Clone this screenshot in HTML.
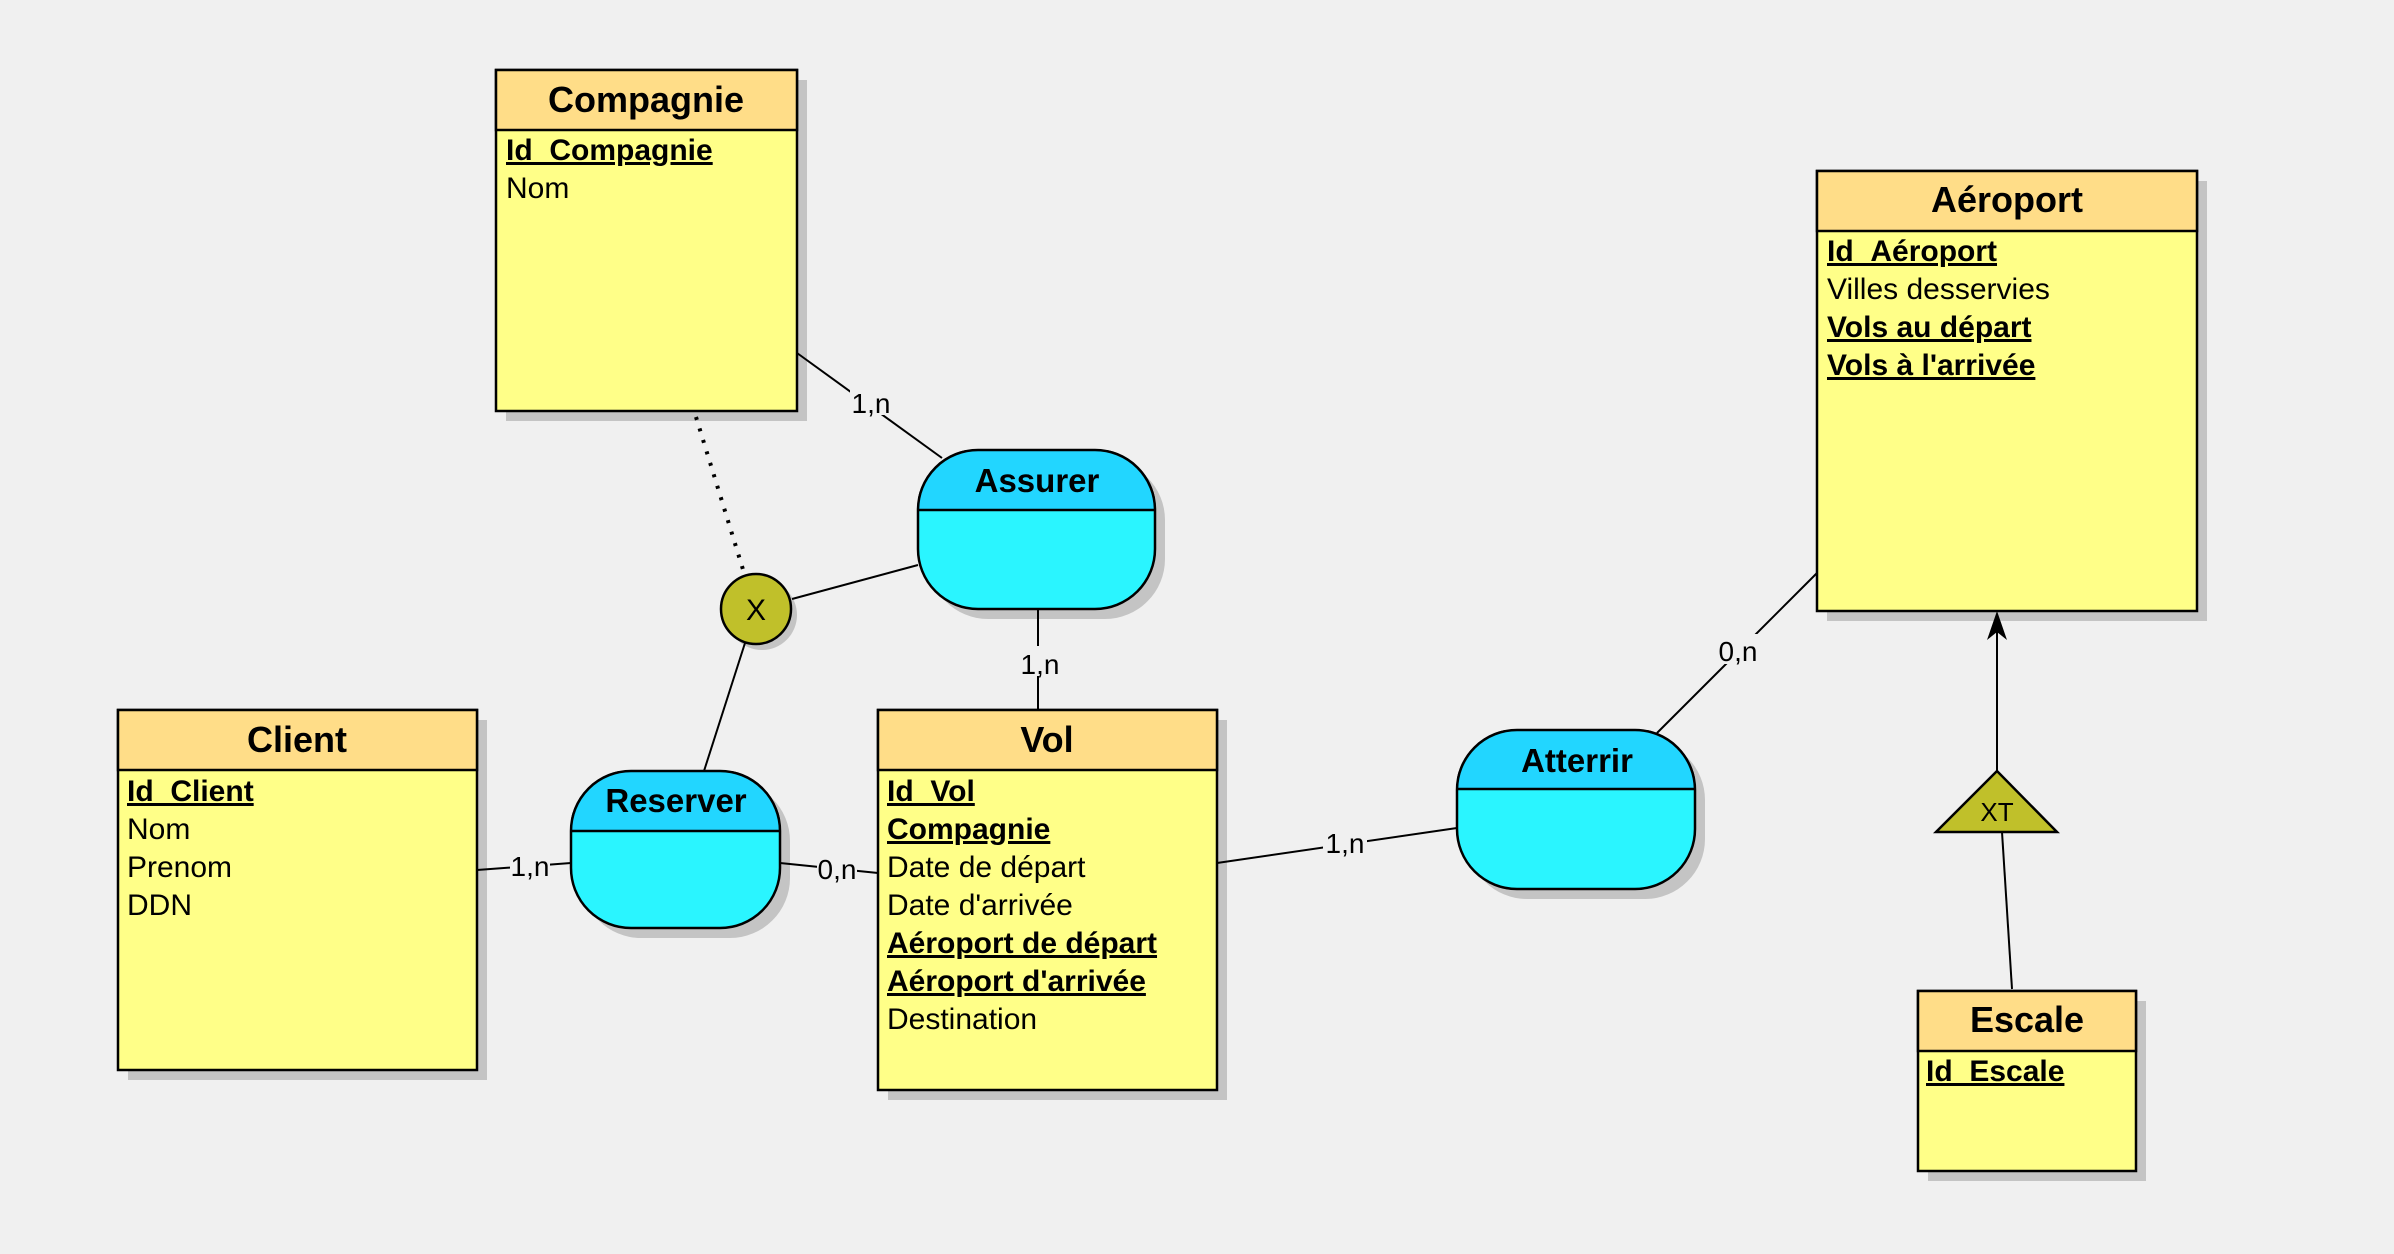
<!DOCTYPE html>
<html><head><meta charset="utf-8"><style>
html,body{margin:0;padding:0;background:#f0f0f0;}
svg{display:block;font-family:"Liberation Sans",Arial,sans-serif;}
.t{font-weight:bold;font-size:36px;text-anchor:middle;}
.a{font-size:30px;}
.k{font-size:30px;font-weight:bold;text-decoration:underline;}
.r{font-weight:bold;font-size:33px;text-anchor:middle;}
.l{font-size:28px;text-anchor:middle;}
</style></head><body>
<svg width="2394" height="1254" viewBox="0 0 2394 1254" xmlns="http://www.w3.org/2000/svg">
<rect width="2394" height="1254" fill="#f0f0f0"/>
<!-- shadows -->
<g fill="#c4c4c4">
<rect x="506" y="80" width="301" height="341"/>
<rect x="1827" y="181" width="380" height="440"/>
<rect x="128" y="720" width="359" height="360"/>
<rect x="888" y="720" width="339" height="380"/>
<rect x="1928" y="1001" width="218" height="180"/>
<rect x="928" y="460" width="237" height="159" rx="60"/>
<rect x="581" y="781" width="209" height="157" rx="60"/>
<rect x="1467" y="740" width="238" height="159" rx="60"/>
<circle cx="762" cy="615" r="35"/>
</g>
<g stroke="#000" stroke-width="2" fill="none">
<line x1="797" y1="353" x2="942" y2="458"/>
<line x1="696" y1="417" x2="745" y2="576" stroke-dasharray="3,9" stroke-width="4"/>
<line x1="792" y1="599" x2="918" y2="565"/>
<line x1="745" y1="643" x2="704" y2="771"/>
<line x1="1038" y1="609" x2="1038" y2="710"/>
<line x1="477" y1="870" x2="571" y2="863"/>
<line x1="780" y1="863" x2="878" y2="873"/>
<line x1="1217" y1="863" x2="1457" y2="828"/>
<line x1="1657" y1="733" x2="1817" y2="573"/>
<line x1="1997" y1="771" x2="1997" y2="625"/>
<line x1="2012" y1="989" x2="2002" y2="832"/>
</g>
<polygon points="1997,611 1987,640 1997,632 2007,640" fill="#000"/>
<!-- labels -->
<rect x="850" y="385" width="42" height="30" fill="#f0f0f0"/><text x="871" y="413" class="l">1,n</text>
<rect x="1019" y="646" width="42" height="30" fill="#f0f0f0"/><text x="1040" y="674" class="l">1,n</text>
<rect x="510" y="850" width="40" height="30" fill="#f0f0f0"/><text x="530" y="876" class="l">1,n</text>
<rect x="817" y="853" width="40" height="30" fill="#f0f0f0"/><text x="837" y="879" class="l">0,n</text>
<rect x="1323" y="826" width="44" height="30" fill="#f0f0f0"/><text x="1345" y="853" class="l">1,n</text>
<rect x="1714" y="634" width="48" height="30" fill="#f0f0f0"/><text x="1738" y="661" class="l">0,n</text>
<!-- entities -->
<g stroke="#000" stroke-width="2.5">
<rect x="496" y="70" width="301" height="341" fill="#ffff88"/><rect x="496" y="70" width="301" height="60" fill="#ffdd88"/>
<rect x="1817" y="171" width="380" height="440" fill="#ffff88"/><rect x="1817" y="171" width="380" height="60" fill="#ffdd88"/>
<rect x="118" y="710" width="359" height="360" fill="#ffff88"/><rect x="118" y="710" width="359" height="60" fill="#ffdd88"/>
<rect x="878" y="710" width="339" height="380" fill="#ffff88"/><rect x="878" y="710" width="339" height="60" fill="#ffdd88"/>
<rect x="1918" y="991" width="218" height="180" fill="#ffff88"/><rect x="1918" y="991" width="218" height="60" fill="#ffdd88"/>
</g>
<text class="t" x="646" y="112">Compagnie</text>
<text class="k" x="506" y="160">Id_Compagnie</text>
<text class="a" x="506" y="198">Nom</text>
<text class="t" x="2007" y="212">Aéroport</text>
<text class="k" x="1827" y="261">Id_Aéroport</text>
<text class="a" x="1827" y="299">Villes desservies</text>
<text class="k" x="1827" y="337">Vols au départ</text>
<text class="k" x="1827" y="375">Vols à l'arrivée</text>
<text class="t" x="297" y="752">Client</text>
<text class="k" x="127" y="801">Id_Client</text>
<text class="a" x="127" y="839">Nom</text>
<text class="a" x="127" y="877">Prenom</text>
<text class="a" x="127" y="915">DDN</text>
<text class="t" x="1047" y="752">Vol</text>
<text class="k" x="887" y="801">Id_Vol</text>
<text class="k" x="887" y="839">Compagnie</text>
<text class="a" x="887" y="877">Date de départ</text>
<text class="a" x="887" y="915">Date d'arrivée</text>
<text class="k" x="887" y="953">Aéroport de départ</text>
<text class="k" x="887" y="991">Aéroport d'arrivée</text>
<text class="a" x="887" y="1029">Destination</text>
<text class="t" x="2027" y="1032">Escale</text>
<text class="k" x="1926" y="1081">Id_Escale</text>
<!-- relations -->
<defs>
<clipPath id="c1"><rect x="918" y="450" width="237" height="60"/></clipPath>
<clipPath id="c2"><rect x="571" y="771" width="209" height="60"/></clipPath>
<clipPath id="c3"><rect x="1457" y="730" width="238" height="59"/></clipPath>
</defs>
<g stroke="#000" stroke-width="2.5">
<rect x="918" y="450" width="237" height="159" rx="60" fill="#2af5ff"/>
<rect x="918" y="450" width="237" height="159" rx="60" fill="#22d6ff" clip-path="url(#c1)"/>
<line x1="918" y1="510" x2="1155" y2="510"/>
<rect x="571" y="771" width="209" height="157" rx="60" fill="#2af5ff"/>
<rect x="571" y="771" width="209" height="157" rx="60" fill="#22d6ff" clip-path="url(#c2)"/>
<line x1="571" y1="831" x2="780" y2="831"/>
<rect x="1457" y="730" width="238" height="159" rx="60" fill="#2af5ff"/>
<rect x="1457" y="730" width="238" height="159" rx="60" fill="#22d6ff" clip-path="url(#c3)"/>
<line x1="1457" y1="789" x2="1695" y2="789"/>
<circle cx="756" cy="609" r="35" fill="#c0c02a"/>
<polygon points="1997,771 1936,832 2057,832" fill="#c0c02a"/>
</g>
<text class="r" x="1037" y="492">Assurer</text>
<text class="r" x="676" y="812">Reserver</text>
<text class="r" x="1577" y="772">Atterrir</text>
<text x="756" y="620" font-size="30" text-anchor="middle">X</text>
<text x="1997" y="821" font-size="26" text-anchor="middle">XT</text>
</svg>
</body></html>
